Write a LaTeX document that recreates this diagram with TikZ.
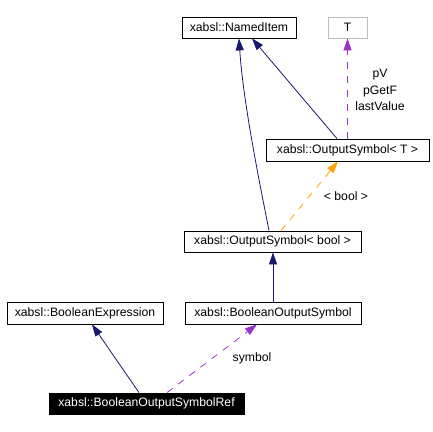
\documentclass[tikz,border=0pt]{standalone}
\usepackage{fontspec}
\setmainfont{Liberation Sans}
\usetikzlibrary{arrows.meta}
\definecolor{edgeblue}{RGB}{25,25,112}
\definecolor{edgepurple}{RGB}{154,50,205}
\definecolor{edgeorange}{RGB}{255,165,0}
\definecolor{boxgray}{RGB}{191,191,191}

\begin{document}
\begin{tikzpicture}[x=1pt,y=-1pt,
    font=\fontsize{12.2}{16.5}\selectfont,
    classbox/.style={draw=black, line width=0.8pt, fill=white, inner sep=0pt, minimum height=21pt},
    inherit/.style={draw=edgeblue, line width=0.8pt, -{Triangle[length=12pt,width=8pt]}},
    usage/.style={draw=edgepurple, line width=0.8pt, dash pattern=on 7pt off 7pt, -{Triangle[length=12pt,width=8pt,fill=edgepurple]}},
    templ/.style={draw=edgeorange, line width=0.8pt, dash pattern=on 7pt off 7pt, -{Triangle[length=12pt,width=8pt,fill=edgeorange]}},
    elabel/.style={inner sep=1pt, align=center}]
    \useasboundingbox (0,0) rectangle (433,431);

    \node[classbox, minimum width=114pt] (nameditem) at (239,27.5) {xabsl::NamedItem};
    \node[classbox, draw=boxgray, minimum width=39pt] (tbox) at (347.5,27.5) {T};
    \node[classbox, minimum width=163pt, minimum height=22pt] (ost) at (347.5,150) {xabsl::OutputSymbol< T >};
    \node[classbox, minimum width=177pt] (osbool) at (272.5,241.5) {xabsl::OutputSymbol< bool >};
    \node[classbox, minimum width=156pt, minimum height=22pt] (boolexpr) at (85,313) {xabsl::BooleanExpression};
    \node[classbox, minimum width=176pt, minimum height=22pt] (bos) at (273,313) {xabsl::BooleanOutputSymbol};
    \node[classbox, fill=black, text=white, minimum width=195pt] (ref) at (146.5,403.5) {xabsl::BooleanOutputSymbolRef};

    \draw[inherit] ([xshift=-3.5pt]osbool.north) .. controls (258,175) and (243,100) .. (nameditem.south);
    \draw[inherit] ([xshift=-10.5pt]ost.north) -- ([xshift=13pt]nameditem.south);
    \draw[usage] (ost.north) -- (tbox.south);
    \draw[templ] ([xshift=8.5pt]osbool.north) -- ([xshift=-9.5pt]ost.south);
    \draw[inherit] (bos.north) -- (bos.north |- osbool.south);
    \draw[inherit] ([xshift=-7.5pt]ref.north) -- ([xshift=7pt]boolexpr.south);
    \draw[usage] ([xshift=20.5pt]ref.north) -- ([xshift=-16pt]bos.south);

    \node[elabel] (tlabel) at (380,90) {pV\\pGetF\\lastValue};
    \node[elabel] (boollabel) at (346,196) {< bool >};
    \node[elabel] (symlabel) at (252,358) {symbol};
\end{tikzpicture}
\end{document}
